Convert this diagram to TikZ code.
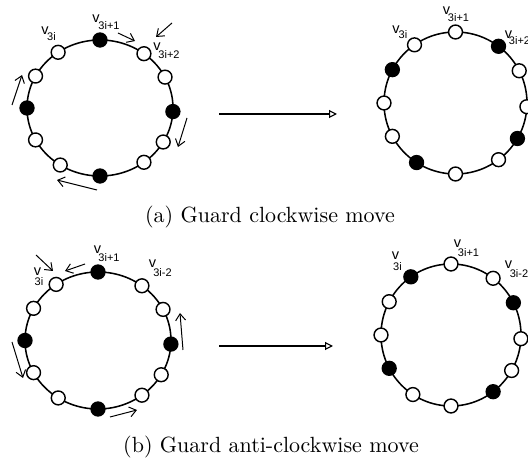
\documentclass[tikz,border=0pt]{standalone}
\usepackage{fontspec}
\newfontfamily\labfont{Liberation Sans}
\usetikzlibrary{arrows.meta,calc}
\tikzset{
    ringline/.style={line width=0.7pt},
    guard/.style={circle, draw, fill=black, minimum size=6.3pt, inner sep=0pt, line width=0.65pt},
    free/.style={guard, fill=white},
    move/.style={line width=0.45pt, -{Straight Barb[length=3pt,width=4.5pt]}},
    goes/.style={line width=0.5pt, -{Triangle[open,length=3.6pt,width=3.6pt]}},
    vtext/.style={inner sep=0pt, font=\labfont\fontsize{6.6}{8}\selectfont},
    vsub/.style={inner sep=0pt, font=\labfont\fontsize{5}{6}\selectfont}
}
\begin{document}
\begin{tikzpicture}[x=0.4545pt,y=0.4545pt]
    \useasboundingbox (0,0) rectangle (528,461);
    % rings, black node = guard
    \foreach \rg/\cx/\cy/\rx/\ry/\g in {A/100/353/73/68/0, B/455.5/358/71.5/71/1, C/98/120.5/73/68.5/0, D/451/126/70/71/2}
    {
        \coordinate (\rg) at (\cx,\cy);
        \draw[ringline] (\rg) ellipse ({\rx} and {\ry});
        \foreach \ang [count=\k from 0] in {90,53,27,-3,-30,-53,-90,-123,-152,180,152,125}
        {
            \pgfmathtruncatemacro{\m}{mod(\k,3)}
            \ifnum\m=\g
                \node[guard] (\rg\k) at ($(\rg)+(\ang:{\rx} and {\ry})$) {};
            \else
                \node[free] (\rg\k) at ($(\rg)+(\ang:{\rx} and {\ry})$) {};
            \fi
        }
    }
    % vertex labels
    \foreach \n/\vx/\vy/\s/\sx/\sy in {
        A0/45/430/3i/51.5/424.5, A1/96/442/3i+1/109/435.5, A2/157/414.5/3i+2/169/406,
        B0/396/431/3i/403/426, B1/446.5/450.5/3i+1/458.5/443.5, B2/508.5/426/3i+2/519.5/420,
        C0/37.5/189/3i/39/179, C1/97.5/211.5/3i+1/109/203, C2/152.5/197/3i-2/162.5/188.5,
        D0/395.5/205/3i/397.5/194.5, D1/457.5/217.5/3i+1/468.5/208, D2/508.5/196.5/3i-2/519/187.5}
    {
        \node[vtext] (v\n) at (\vx,\vy) {v};
        \node[vsub] (s\n) at (\sx,\sy) {\s};
    }
    % guard moves
    \foreach \n/\sx/\sy/\ex/\ey in {
        a1/118/428/135/420, a2/172/438/156/424, a3/12/356/22/386, a4/187/343/178/314, a5/97/271/57/281,
        b1/36/206/53/190, b2/85/197/65/190, b3/12/119/23/83, b4/183/111/180/148, b5/110/44/137/51}
    {
        \draw[move] (\sx,\sy) coordinate (\n s) -- (\ex,\ey) coordinate (\n e);
    }
    \coordinate (AB-s) at (219,347);
    \coordinate (AB-e) at (337,347);
    \draw[goes] (AB-s) -- (AB-e);
    \coordinate (CD-s) at (219,115);
    \coordinate (CD-e) at (333,115);
    \draw[goes] (CD-s) -- (CD-e);
    \node (capA) at (270,244) {(a) Guard clockwise move};
    \node (capB) at (271,14) {(b) Guard anti-clockwise move};
\end{tikzpicture}
\end{document}
